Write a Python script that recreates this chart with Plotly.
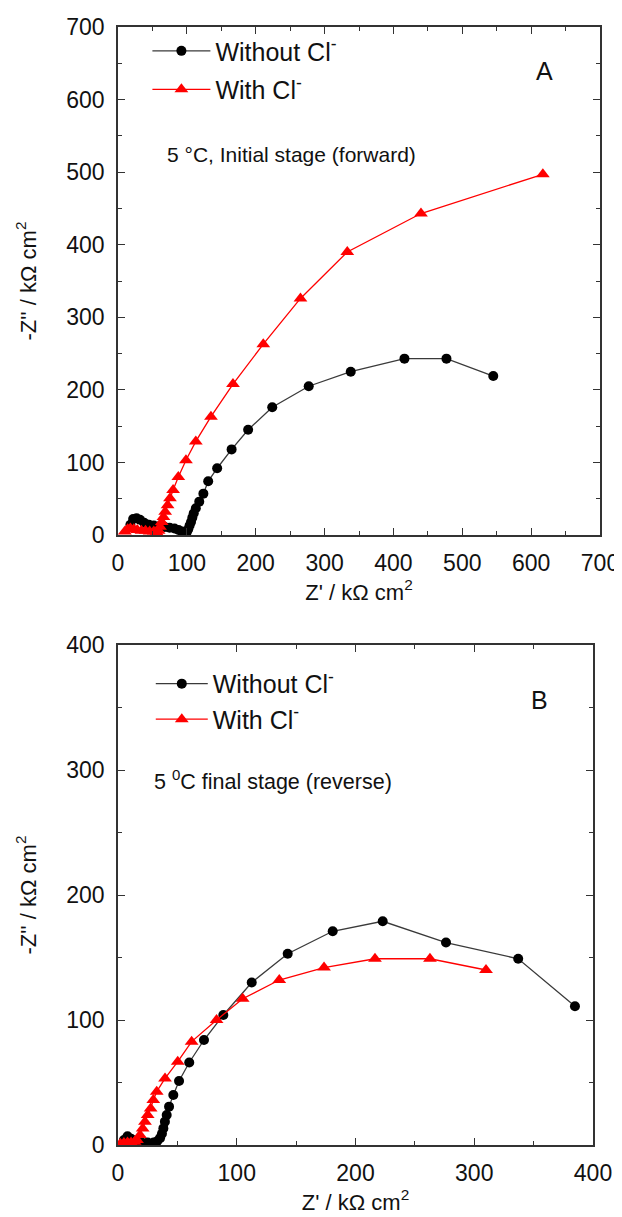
import plotly.graph_objects as go

# ---------------- Panel A data (5 °C, initial stage, forward) ----------------
a_without_x = [18, 22, 27, 32, 38, 45, 52, 60, 68, 75, 82, 88, 93, 97, 100, 102, 104, 106, 108,
               110, 113, 118, 124, 131, 144, 165, 189, 224, 277, 338, 416, 477, 545]
a_without_y = [14, 22, 23, 21, 17, 14, 13, 12, 11, 10, 9, 7, 5, 3, 4, 8, 13, 18, 24,
               30, 37, 46, 57, 74, 92, 118, 145, 176, 205, 225, 243, 243, 219]

a_with_x = [10, 14, 18, 23, 28, 34, 40, 46, 52, 56, 59, 61, 63.5, 66, 68.5, 72, 75.5, 80,
            87.6, 98.7, 113, 135, 167, 211, 265, 333, 440, 617]
a_with_y = [5, 8, 9, 8, 7, 6, 6, 5, 5, 4, 6, 11.5, 18, 25, 32, 41, 50.5, 62,
            80, 103, 129, 163, 208, 263, 326, 390, 443, 497]

# ---------------- Panel B data (5 °C, final stage, reverse) ----------------
b_without_x = [5, 8, 11, 15, 20, 25, 30, 33, 35.4, 37, 38.2, 39.5, 41, 43, 46.6, 51.4, 60,
               72.4, 88.7, 112.6, 142.9, 180.8, 222.9, 276.2, 337, 384.8]
b_without_y = [4, 7, 5, 3, 2, 2, 2, 3, 5.5, 9, 13.3, 18.7, 24, 30.7, 40, 51.2, 66,
               84, 104, 130, 153, 171, 179, 162, 149, 111]

b_with_x = [2, 5, 8, 11, 14, 16, 18.5, 20.8, 22.7, 25, 27.5, 29.7, 32.6, 39.6, 50.3, 62,
            83, 105, 135.8, 173.5, 216.4, 262.7, 309.9]
b_with_y = [1, 1.5, 2, 2, 2.5, 4, 8, 13.3, 18.7, 24, 29.3, 36, 42.7, 53.3, 66.7, 82.7,
            100, 117, 132, 142, 149, 149, 140]

series_names = ["Without Cl<sup>-</sup>", "With Cl<sup>-</sup>"]
a_ticks = [0, 100, 200, 300, 400, 500, 600, 700]
b_ticks = [0, 100, 200, 300, 400]

FONT = "Liberation Sans, Arial, sans-serif"
BLACK = "#000000"
LINE_BLACK = "#3a3a3a"
RED = "#ff0000"
AX = "#333333"
TXT = "#111111"

fig = go.Figure()

def add_pair(xw, yw, xr, yr, xa, ya, legend):
    fig.add_trace(go.Scatter(
        x=xw, y=yw, mode="lines+markers", name=series_names[0],
        line=dict(color=LINE_BLACK, width=1.3),
        marker=dict(symbol="circle", size=10, color=BLACK),
        xaxis=xa, yaxis=ya, legend=legend, legendgroup=legend + "a"))
    fig.add_trace(go.Scatter(
        x=xr, y=yr, mode="lines+markers", name=series_names[1],
        line=dict(color=RED, width=1.3),
        marker=dict(symbol="triangle-up", size=12, color=RED),
        xaxis=xa, yaxis=ya, legend=legend, legendgroup=legend + "b"))

add_pair(a_without_x, a_without_y, a_with_x, a_with_y, "x", "y", "legend")
add_pair(b_without_x, b_without_y, b_with_x, b_with_y, "x2", "y2", "legend2")

def axis_common(ticks, rng, domain, anchor, title, standoff, lblstandoff):
    return dict(
        range=rng, domain=domain, anchor=anchor, automargin=False,
        tickvals=ticks, ticks="inside", ticklen=7, tickwidth=1.3, tickcolor=AX,
        minor=dict(ticks="inside", ticklen=4, dtick=50, tickwidth=1.3, tickcolor=AX),
        showline=True, linecolor=AX, linewidth=1.5, mirror="ticks",
        showgrid=False, zeroline=False, ticklabelstandoff=lblstandoff,
        tickfont=dict(family=FONT, size=23, color=TXT),
        title=dict(text=title, font=dict(family=FONT, size=22, color=TXT), standoff=standoff),
    )

xtitle = "Z' / k\u03a9 cm<sup>2</sup>"
ytitle = "-Z'' / k\u03a9 cm<sup>2</sup>"

# page body has an 8 px margin: figure is 8 px smaller and margins shifted accordingly
fig.update_layout(
    width=614, height=1209,
    margin=dict(l=110, r=22, t=19, b=72),
    plot_bgcolor="white", paper_bgcolor="white",
    font=dict(family=FONT, color=TXT),
    xaxis=axis_common(a_ticks, [0, 700], [0, 1], "y", xtitle, 4, 7),
    yaxis=axis_common(a_ticks, [0, 700], [0.5456, 1], "x", ytitle, 24, 7),
    xaxis2=axis_common(b_ticks, [0, 400], [0, 0.9855], "y2", xtitle, 4, 7),
    yaxis2=axis_common(b_ticks, [0, 400], [0, 0.4472], "x2", ytitle, 24, 7),
    legend=dict(x=0.061, y=0.999, xanchor="left", yanchor="top",
                font=dict(family=FONT, size=25, color=TXT),
                bgcolor="rgba(0,0,0,0)", itemwidth=58, tracegroupgap=3),
    legend2=dict(x=0.068, y=0.433, xanchor="left", yanchor="top",
                 font=dict(family=FONT, size=25, color=TXT),
                 bgcolor="rgba(0,0,0,0)", itemwidth=52, tracegroupgap=0),
    annotations=[
        dict(text="A", x=620, y=640, xref="x", yref="y", showarrow=False,
             font=dict(family=FONT, size=25, color=TXT)),
        dict(text="5 \u00b0C, Initial stage (forward)", x=68, y=524, xref="x", yref="y",
             xanchor="left", showarrow=False, font=dict(family=FONT, size=21, color=TXT)),
        dict(text="B", x=355, y=356, xref="x2", yref="y2", showarrow=False,
             font=dict(family=FONT, size=25, color=TXT)),
        dict(text="5 <sup>0</sup>C final stage (reverse)", x=29, y=292, xref="x2", yref="y2",
             xanchor="left", showarrow=False, font=dict(family=FONT, size=21.5, color=TXT)),
        dict(text="<b>Fig. 3A</b>", x=-0.19, y=1.0, xref="paper", yref="paper",
             xanchor="left", yanchor="bottom", yshift=19, showarrow=False,
             font=dict(family=FONT, size=20, color=TXT)),
    ],
)

fig.write_html("out.html")
